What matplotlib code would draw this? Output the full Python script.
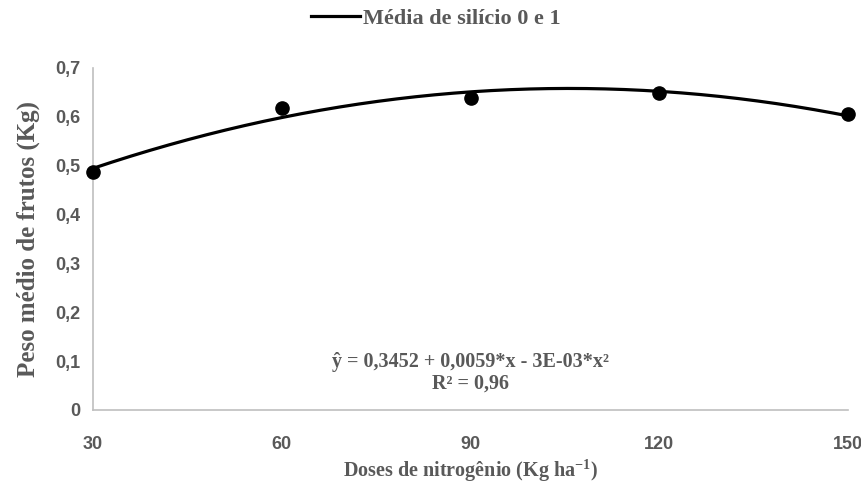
import numpy as np
import matplotlib
matplotlib.use('Agg')
import matplotlib.pyplot as plt

# Dados
doses = [30, 60, 90, 120, 150]
peso = [0.487, 0.617, 0.639, 0.649, 0.605]
xticks = [30, 60, 90, 120, 150]
yticks = [0, 0.1, 0.2, 0.3, 0.4, 0.5, 0.6, 0.7]

cinza = '#595959'
serif = 'Liberation Serif'
sans = 'Liberation Sans'

plt.rcParams['mathtext.fontset'] = 'custom'
plt.rcParams['mathtext.rm'] = 'Liberation Serif:bold'
plt.rcParams['mathtext.bf'] = 'Liberation Serif:bold'

fig = plt.figure(figsize=(8.62, 4.88), dpi=100)
ax = fig.add_axes([0.108, 0.16, 0.876, 0.701])

# Linha de tendência polinomial (grau 2), como no Excel
coef = np.polyfit(doses, peso, 2)
xs = np.linspace(doses[0], doses[-1], 200)
linha, = ax.plot(xs, np.polyval(coef, xs), color='black', lw=2.3)
ax.plot(doses, peso, 'o', color='black', ms=9.5, zorder=3, clip_on=False)

ax.set_xlim(30, 150)
ax.set_ylim(0, 0.7)
ax.set_xticks(xticks)
ax.set_yticks(yticks)
ax.set_xticklabels([str(v) for v in xticks], fontfamily=sans, fontweight='bold', fontsize=13, color=cinza)
ax.set_yticklabels(['0' if v == 0 else f'{v:.1f}'.replace('.', ',') for v in yticks],
                   fontfamily=sans, fontweight='bold', fontsize=13, color=cinza)
ax.tick_params(axis='x', length=0, pad=19)
ax.tick_params(axis='y', length=0, pad=9)

for s in ['top', 'right']:
    ax.spines[s].set_visible(False)
for s in ['left', 'bottom']:
    ax.spines[s].set_color('#BFBFBF')
    ax.spines[s].set_linewidth(1.2)

ax.set_xlabel('Doses de nitrogênio (Kg ha$^{-1}$)', fontfamily=serif, fontweight='bold',
              fontsize=14.5, color=cinza, labelpad=3)
ax.set_ylabel('Peso médio de frutos (Kg)', fontfamily=serif, fontweight='bold',
              fontsize=18, color=cinza, labelpad=11)

ax.text(0.5, 0.14, 'ŷ = 0,3452 + 0,0059*x - 3E-03*x²', transform=ax.transAxes, ha='center',
        va='center', fontfamily=serif, fontweight='bold', fontsize=14.5, color=cinza)
ax.text(0.5, 0.076, 'R² = 0,96', transform=ax.transAxes, ha='center', va='center',
        fontfamily=serif, fontweight='bold', fontsize=14.5, color=cinza)

leg = fig.legend([linha], ['Média de silício 0 e 1'], loc='center', bbox_to_anchor=(0.506, 0.962),
                 frameon=False, handlelength=2.2, handletextpad=0.15,
                 prop={'family': serif, 'weight': 'bold', 'size': 16})
for t in leg.get_texts():
    t.set_color(cinza)

fig.savefig('out.png', dpi=100)
